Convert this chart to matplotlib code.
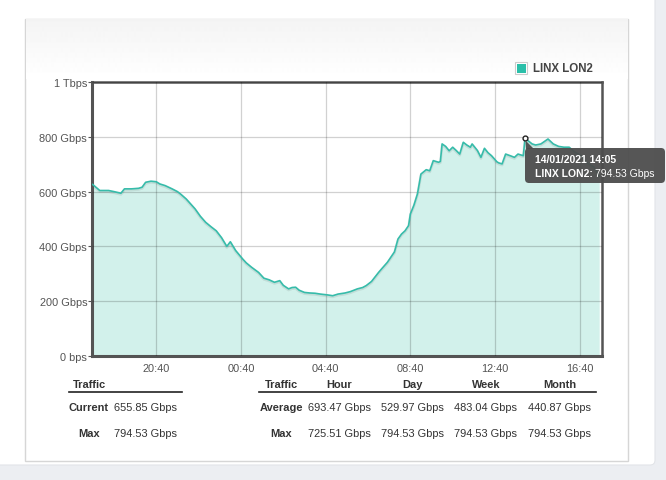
import matplotlib
matplotlib.use("Agg")
import matplotlib.pyplot as plt
from matplotlib.patches import Rectangle, FancyBboxPatch, Polygon
from datetime import datetime, timedelta
import numpy as np

plt.rcParams['font.family'] = ['Liberation Sans', 'DejaVu Sans']

# traffic samples, starting 13/01/2021 17:40
times = ["17:40", "18:00", "18:25", "18:40", "19:00", "19:10", "19:30", "19:50",
         "20:00", "20:10", "20:25", "20:40", "20:50", "21:05", "21:15", "21:25",
         "21:40", "21:50", "22:05", "22:30", "22:45", "23:00", "23:15", "23:30",
         "23:45", "00:00", "00:10", "00:25", "00:45", "00:55", "01:10", "01:30",
         "01:45", "02:00", "02:05", "02:15", "02:30", "02:40", "02:55", "03:05",
         "03:15", "03:25", "03:40", "03:55", "04:10", "04:25", "04:45", "05:00",
         "05:15", "05:35", "05:50", "06:10", "06:25", "06:35", "06:50", "07:10",
         "07:20", "07:35", "07:55", "08:05", "08:15", "08:25", "08:35", "08:40",
         "08:50", "09:00", "09:10", "09:25", "09:35", "09:45", "10:00", "10:05",
         "10:10", "10:20", "10:30", "10:40", "10:50", "11:00", "11:10", "11:20",
         "11:30", "11:35", "11:50", "12:00", "12:10", "12:20", "12:30", "12:45",
         "12:50", "13:00", "13:10", "13:25", "13:35", "13:45", "14:00", "14:05",
         "14:25", "14:35", "14:50", "15:10", "15:25", "15:40", "15:55", "16:10",
         "16:25", "16:45", "17:00", "17:20", "17:35"]
gbps = [626, 604, 604, 600, 594, 610, 610, 612,
        616, 634, 638, 636, 628, 622, 616, 610,
        600, 590, 573, 537, 510, 488, 472, 457,
        432, 400, 417, 385, 354, 340, 324, 305,
        284, 278, 275, 269, 275, 258, 245, 250,
        251, 240, 232, 230, 229, 226, 223, 220,
        226, 230, 235, 245, 250, 257, 272, 305,
        320, 342, 380, 427, 445, 457, 476, 518,
        550, 591, 664, 680, 676, 713, 707, 710,
        774, 765, 749, 762, 750, 737, 780, 770,
        762, 774, 750, 725, 758, 742, 731, 709,
        705, 701, 737, 730, 725, 737, 731, 794.53,
        774, 770, 774, 792, 774, 765, 762, 762,
        745, 730, 705, 690, 655.85]

y_ticks = [0, 200, 400, 600, 800, 1000]
y_labels = ["0 bps", "200 Gbps", "400 Gbps", "600 Gbps", "800 Gbps", "1 Tbps"]
x_labels = ["20:40", "00:40", "04:40", "08:40", "12:40", "16:40"]

series_name = "LINX LON2"
tip_time = "14/01/2021 14:05"
tip_value = "794.53 Gbps"

left_rows = [("Current", "655.85 Gbps"), ("Max", "794.53 Gbps")]
right_cols = ["Hour", "Day", "Week", "Month"]
right_rows = [("Average", ["693.47 Gbps", "529.97 Gbps", "483.04 Gbps", "440.87 Gbps"]),
              ("Max", ["725.51 Gbps", "794.53 Gbps", "794.53 Gbps", "794.53 Gbps"])]

# build datetimes, rolling over midnight
start_day = datetime(2021, 1, 13)
stamps = []
day = 0
prev = None
for t in times:
    h, m = map(int, t.split(":"))
    if prev is not None and (h, m) < prev:
        day += 1
    prev = (h, m)
    stamps.append(start_day + timedelta(days=day, hours=h, minutes=m))

W, H = 666, 481
fig = plt.figure(figsize=(W / 100, H / 100), dpi=100)
fig.patch.set_facecolor("white")


def fx(x):
    return x / W


def fy(y):
    return 1 - y / H


# page background / card
bg = fig.add_axes([0, 0, 1, 1], zorder=-10)
bg.set_xlim(0, W)
bg.set_ylim(H, 0)
bg.axis("off")
bg.add_patch(Rectangle((0, 0), W, H, color="#eceef2"))
bg.add_patch(FancyBboxPatch((-10, -10), 665, 476, boxstyle="round,pad=0,rounding_size=5",
                            fc="white", ec="#e2e4e8", lw=0.8))
bg.add_patch(Rectangle((25, 20), 603, 442, fc="white", ec="#d6d6d6", lw=1))
grad = np.linspace(0.955, 1.0, 60).reshape(-1, 1)
bg.imshow(grad, extent=(25.5, 627.5, 80, 20.5), cmap="gray", vmin=0, vmax=1,
          aspect="auto", zorder=2)

# chart
ax = fig.add_axes([fx(92), fy(357), fx(602) - fx(92), fy(83) - fy(357)])
ax.fill_between(stamps, gbps, 0, color="#d2f1eb", lw=0, zorder=1)
ax.plot(stamps, [v - 4 for v in gbps], color="#000000", alpha=0.08, lw=2, zorder=2)
ax.plot(stamps, gbps, color="#36bcaa", lw=1.2, zorder=3)

ax.set_ylim(0, 1000)
ax.set_xlim(stamps[0] - timedelta(minutes=2), stamps[-1] + timedelta(minutes=8))
ax.set_yticks(y_ticks)
ax.set_yticklabels(y_labels)
tick_pos = [datetime(2021, 1, 13, 20, 40) + timedelta(hours=4 * i) for i in range(len(x_labels))]
ax.set_xticks(tick_pos)
ax.set_xticklabels(x_labels)
ax.grid(True, color="#000000", alpha=0.18, lw=0.9, zorder=4)
ax.set_axisbelow(False)
ax.tick_params(axis="y", length=3, width=0.8, pad=0.5, labelsize=7.9, colors="#545454")
ax.tick_params(axis="x", length=0, pad=5, labelsize=7.9, colors="#545454")
for side in ["left", "bottom"]:
    ax.spines[side].set_linewidth(2.2)
    ax.spines[side].set_color("#545454")
for side in ["top", "right"]:
    ax.spines[side].set_linewidth(1.8)
    ax.spines[side].set_color("#545454")

# hovered point
pk = gbps.index(max(gbps))
ax.plot([stamps[pk]], [gbps[pk]], "o", ms=3.5, mfc="white", mec="#222222", mew=1, zorder=6,
        clip_on=False)

# legend
bg.add_patch(Rectangle((515, 63), 12, 12, fc="white", ec="#cccccc", lw=0.8, zorder=5))
bg.add_patch(Rectangle((516.5, 64.5), 9, 9, fc="#2bbfa9", lw=0, zorder=6))
fig.text(fx(533), fy(69.5), series_name, fontsize=8.3, fontweight="bold",
         color="#444444", va="center", ha="left")

# tooltip
tip = fig.add_axes([0, 0, 1, 1], zorder=20)
tip.set_xlim(0, W)
tip.set_ylim(H, 0)
tip.axis("off")
tip.add_patch(FancyBboxPatch((525, 149), 140, 35, boxstyle="round,pad=0,rounding_size=4",
                             fc="#4d4d4d", ec="none", alpha=0.95))
tip.add_patch(Polygon([(525.5, 141.5), (526, 150), (534, 150)], closed=True,
                      fc="#4d4d4d", ec="none", alpha=0.95))
tfs = 7.5
tip.text(535, 160.5, tip_time, fontsize=tfs, fontweight="bold", color="white",
         va="center", ha="left")
t1 = tip.text(535, 174.5, series_name + ":", fontsize=tfs, fontweight="bold", color="white",
              va="center", ha="left")
fig.canvas.draw()
bb = t1.get_window_extent()
tip.text(535 + bb.width + 2.5, 174.5, tip_value, fontsize=tfs, color="white",
         va="center", ha="left")

# tables
fs = 7.9
tc = "#333333"
fig.text(fx(89), fy(385), "Traffic", fontsize=fs, fontweight="bold", color=tc,
         ha="center", va="center")
fig.add_artist(plt.Line2D([fx(69), fx(182)], [fy(393), fy(393)], color="#222222", lw=1.2))
for i, (lab, val) in enumerate(left_rows):
    yy = 408 + 26 * i
    fig.text(fx(89), fy(yy), lab, fontsize=fs, fontweight="bold", color=tc,
             ha="center", va="center")
    fig.text(fx(146), fy(yy), val, fontsize=fs, color=tc, ha="center", va="center")

col_x = [339, 412.5, 486, 559.5]
fig.text(fx(281), fy(385), "Traffic", fontsize=fs, fontweight="bold", color=tc,
         ha="center", va="center")
for cx, name in zip(col_x, right_cols):
    fig.text(fx(cx), fy(385), name, fontsize=fs, fontweight="bold", color=tc,
             ha="center", va="center")
fig.add_artist(plt.Line2D([fx(259), fx(596)], [fy(393), fy(393)], color="#222222", lw=1.2))
for i, (lab, vals) in enumerate(right_rows):
    yy = 408 + 26 * i
    fig.text(fx(281), fy(yy), lab, fontsize=fs, fontweight="bold", color=tc,
             ha="center", va="center")
    for cx, v in zip(col_x, vals):
        fig.text(fx(cx), fy(yy), v, fontsize=fs, color=tc, ha="center", va="center")

fig.savefig("out.png", dpi=100)
